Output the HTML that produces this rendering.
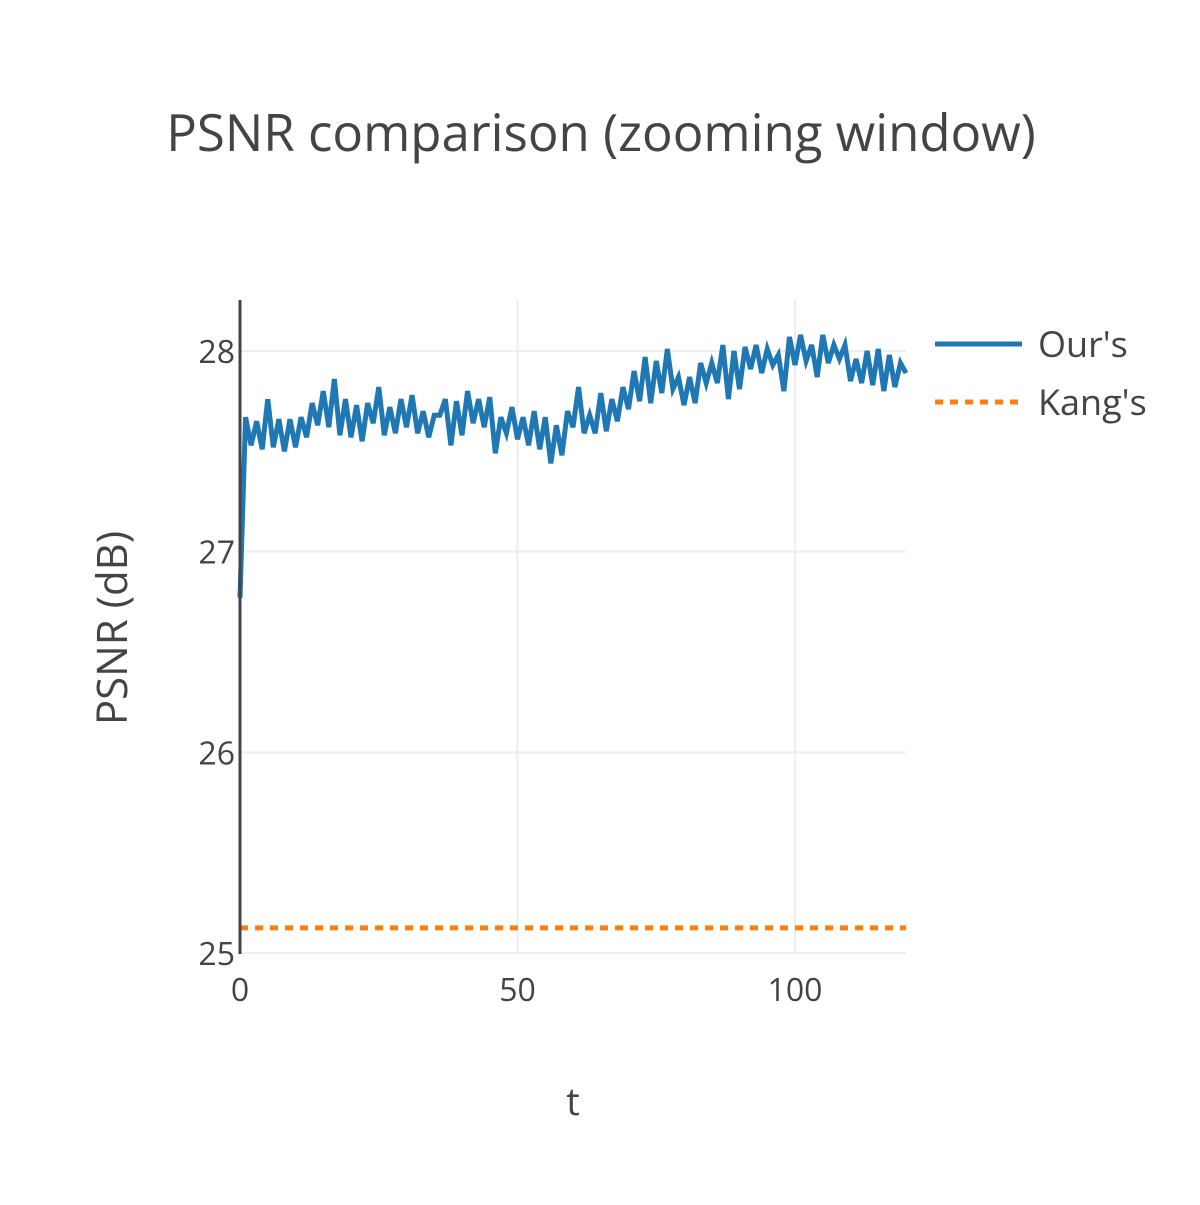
<!DOCTYPE html>
<html><head><meta charset="utf-8"><style>
body{margin:0;background:#fff;font-family:"Open Sans","Liberation Sans",sans-serif;}
</style></head><body>
<svg id="chart" width="1200" height="1200" xmlns="http://www.w3.org/2000/svg" font-family="'Open Sans','Liberation Sans',sans-serif" fill="#444">
<rect width="1200" height="1200" fill="#fff"/>
<text x="601" y="151" font-size="51" text-anchor="middle" fill="#444">PSNR comparison (zooming window)</text>
<g id="grid"></g>
<g id="series"></g>
<g id="axes"></g>
<text x="573" y="1115" font-size="38" text-anchor="middle">t</text>
<text transform="translate(127,628) rotate(-90)" font-size="42" text-anchor="middle">PSNR (dB)</text>
<g>
<g><line x1="935" y1="344" x2="1022" y2="344" stroke="#1f77b4" stroke-width="5"/><text x="1038" y="357" font-size="36">Our's</text></g>
<g><line x1="935" y1="402" x2="1022" y2="402" stroke="#ff7f0e" stroke-width="5" stroke-dasharray="8,7"/><text x="1038" y="415" font-size="36">Kang's</text></g>
</g>
</svg>
<script>
const ours=[26.77,27.67,27.53,27.65,27.51,27.76,27.52,27.66,27.50,27.66,27.52,27.67,27.57,27.74,27.63,27.80,27.62,27.86,27.58,27.76,27.57,27.73,27.55,27.74,27.64,27.82,27.58,27.72,27.59,27.76,27.62,27.78,27.59,27.70,27.57,27.68,27.68,27.76,27.53,27.75,27.58,27.80,27.64,27.76,27.62,27.77,27.49,27.67,27.59,27.72,27.56,27.67,27.53,27.70,27.51,27.67,27.44,27.63,27.48,27.70,27.62,27.82,27.59,27.68,27.59,27.79,27.60,27.76,27.65,27.82,27.71,27.90,27.75,27.97,27.74,27.95,27.79,28.01,27.81,27.87,27.73,27.87,27.74,27.94,27.84,27.94,27.84,28.03,27.76,28.00,27.81,28.02,27.91,28.03,27.89,28.01,27.93,27.98,27.80,28.07,27.93,28.08,27.95,28.03,27.87,28.08,27.94,28.03,27.96,28.03,27.85,27.96,27.84,28.00,27.83,28.01,27.80,27.98,27.82,27.94,27.89];
const kangs=[25.125,25.125];
const kangsT=[0,120];
const xTicks=[0,50,100];
const yTicks=[25,26,27,28];
const X0=240,X1=906,Y0=953,Y1=300,XMIN=0,XMAX=120,YMIN=25,YMAX=28.254;
const sx=t=>X0+(t-XMIN)/(XMAX-XMIN)*(X1-X0);
const sy=v=>Y0-(v-YMIN)/(YMAX-YMIN)*(Y0-Y1);
const NS='http://www.w3.org/2000/svg';
function mk(tag,attrs,parent){const e=document.createElementNS(NS,tag);for(const k in attrs)e.setAttribute(k,attrs[k]);parent.appendChild(e);return e;}
const grid=document.getElementById('grid'),axes=document.getElementById('axes'),ser=document.getElementById('series');
xTicks.forEach(t=>{
  if(t!==0){const g=mk('line',{x1:sx(t),x2:sx(t),y1:Y1,y2:Y0,stroke:'#eee','stroke-width':2},grid);
  
  }
  const l=mk('text',{x:sx(t),y:Y0+48,'font-size':32,'text-anchor':'middle'},axes);l.textContent=t;
  
  
});
yTicks.forEach(v=>{
  const g=mk('line',{x1:X0,x2:X1,y1:sy(v),y2:sy(v),stroke:'#eee','stroke-width':2},grid);
  
  
  const l=mk('text',{x:X0-5,y:sy(v)+12,'font-size':32,'text-anchor':'end'},axes);l.textContent=v;
  
  
});
const ax=mk('line',{x1:X0,x2:X0,y1:Y1,y2:Y0+1,stroke:'#444','stroke-width':3},axes);


const kp=mk('polyline',{points:kangs.map((v,i)=>sx(kangsT[i])+','+sy(v)).join(' '),fill:'none',stroke:'#ff7f0e','stroke-width':5,'stroke-dasharray':'8,7'},ser);


const op=mk('polyline',{points:ours.map((v,i)=>sx(i)+','+sy(v)).join(' '),fill:'none',stroke:'#1f77b4','stroke-width':5,'stroke-linejoin':'miter'},ser);


</script>
</body></html>
